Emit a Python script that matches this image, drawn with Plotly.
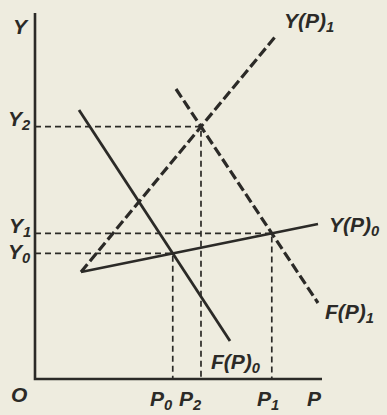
# -*- coding: utf-8 -*-
"""
Диаграмма: сдвиг кривых Y(P) и F(P), равновесия P0/Y0, P1/Y1, P2/Y2
"""

import plotly.graph_objects as go

# Концы кривых (P, Y) в условных единицах
y_p0_P = [4.6, 28.3]
y_p0_Y = [10.7, 15.5]
y_p1_P = [4.6, 24.0]
y_p1_Y = [10.7, 34.2]
f_p0_P = [4.4, 19.5]
f_p0_Y = [26.9, 3.8]
f_p1_P = [14.1, 28.3]
f_p1_Y = [29.0, 7.6]

# Длины осей
axis_P_max = 28.7
axis_Y_max = 36.6

# Подписи
curve_labels = ['Y(P)<sub>1</sub>', 'Y(P)<sub>0</sub>', 'F(P)<sub>1</sub>', 'F(P)<sub>0</sub>']
eq_P_labels = ['P<sub>0</sub>', 'P<sub>2</sub>', 'P<sub>1</sub>']
eq_Y_labels = ['Y<sub>0</sub>', 'Y<sub>2</sub>', 'Y<sub>1</sub>']

INK = '#2b2a27'
PAPER = '#eeecdf'
FONT = dict(family='Liberation Sans', size=21, style='italic', weight='bold', color=INK)


def intersect(p_a, y_a, p_b, y_b):
    """Точка пересечения двух прямых, заданных двумя точками"""
    ka = (y_a[1] - y_a[0]) / (p_a[1] - p_a[0])
    kb = (y_b[1] - y_b[0]) / (p_b[1] - p_b[0])
    p = (y_b[0] - y_a[0] + ka * p_a[0] - kb * p_b[0]) / (ka - kb)
    return p, y_a[0] + ka * (p - p_a[0])


# Равновесия: 0 - Y(P)0 x F(P)0, 2 - Y(P)1 x F(P)1, 1 - Y(P)0 x F(P)1
eq_points = [
    intersect(y_p0_P, y_p0_Y, f_p0_P, f_p0_Y),
    intersect(y_p1_P, y_p1_Y, f_p1_P, f_p1_Y),
    intersect(y_p0_P, y_p0_Y, f_p1_P, f_p1_Y),
]

fig = go.Figure()

# Оси
fig.add_trace(go.Scatter(
    x=[0, 0, axis_P_max], y=[axis_Y_max, 0, 0],
    mode='lines', line=dict(color=INK, width=2.6), hoverinfo='skip'
))

# Пунктирные проекции
for p, y in eq_points:
    fig.add_trace(go.Scatter(
        x=[0, p, p], y=[y, y, 0],
        mode='lines', line=dict(color=INK, width=1.7, dash='6px,4px'),
        hoverinfo='skip'
    ))

# Сплошные кривые
for xs, ys in [(y_p0_P, y_p0_Y), (f_p0_P, f_p0_Y)]:
    fig.add_trace(go.Scatter(
        x=xs, y=ys, mode='lines', line=dict(color=INK, width=2.8),
        hoverinfo='skip'
    ))

# Пунктирные кривые
for xs, ys in [(y_p1_P, y_p1_Y), (f_p1_P, f_p1_Y)]:
    fig.add_trace(go.Scatter(
        x=xs, y=ys, mode='lines', line=dict(color=INK, width=3.2, dash='10px,4px'),
        hoverinfo='skip'
    ))

# Подписи кривых
fig.add_annotation(x=24.7, y=35.7, text=curve_labels[0], xanchor='left')
fig.add_annotation(x=29.2, y=15.3, text=curve_labels[1], xanchor='left')
fig.add_annotation(x=28.8, y=6.6, text=curve_labels[2], xanchor='left')
fig.add_annotation(x=20.1, y=1.6, text=curve_labels[3], xanchor='center')

# Подписи осей
fig.add_annotation(x=-0.4, y=35.3, text='Y', xanchor='right')
fig.add_annotation(x=27.9, y=-1.9, text='P', xanchor='center')
fig.add_annotation(x=-1.6, y=-1.5, text='O', xanchor='center')

# Подписи равновесий
p_shifts = [-11, -10, -4]
y_shifts = [0, 7, 6]
for (p, y), lp, ly, dx, dy in zip(eq_points, eq_P_labels, eq_Y_labels, p_shifts, y_shifts):
    fig.add_annotation(x=p, y=-2.1, text=lp, xanchor='center', xshift=dx)
    fig.add_annotation(x=-0.2, y=y, text=ly, xanchor='right', yshift=dy)

fig.update_annotations(showarrow=False, font=FONT, yanchor='middle')

fig.update_layout(
    width=387, height=415,
    margin=dict(l=0, r=0, t=0, b=0),
    paper_bgcolor=PAPER, plot_bgcolor=PAPER,
    showlegend=False,
    xaxis=dict(range=[-3.5, 35.2], visible=False, fixedrange=True),
    yaxis=dict(range=[-3.6, 37.9], visible=False, fixedrange=True),
)

# Убираем отступ страницы, чтобы рисунок начинался с левого верхнего угла
fig.write_html(
    "out.html",
    config={'displayModeBar': False},
    post_script="document.body.style.margin='0';document.body.style.background='%s';" % PAPER,
)
